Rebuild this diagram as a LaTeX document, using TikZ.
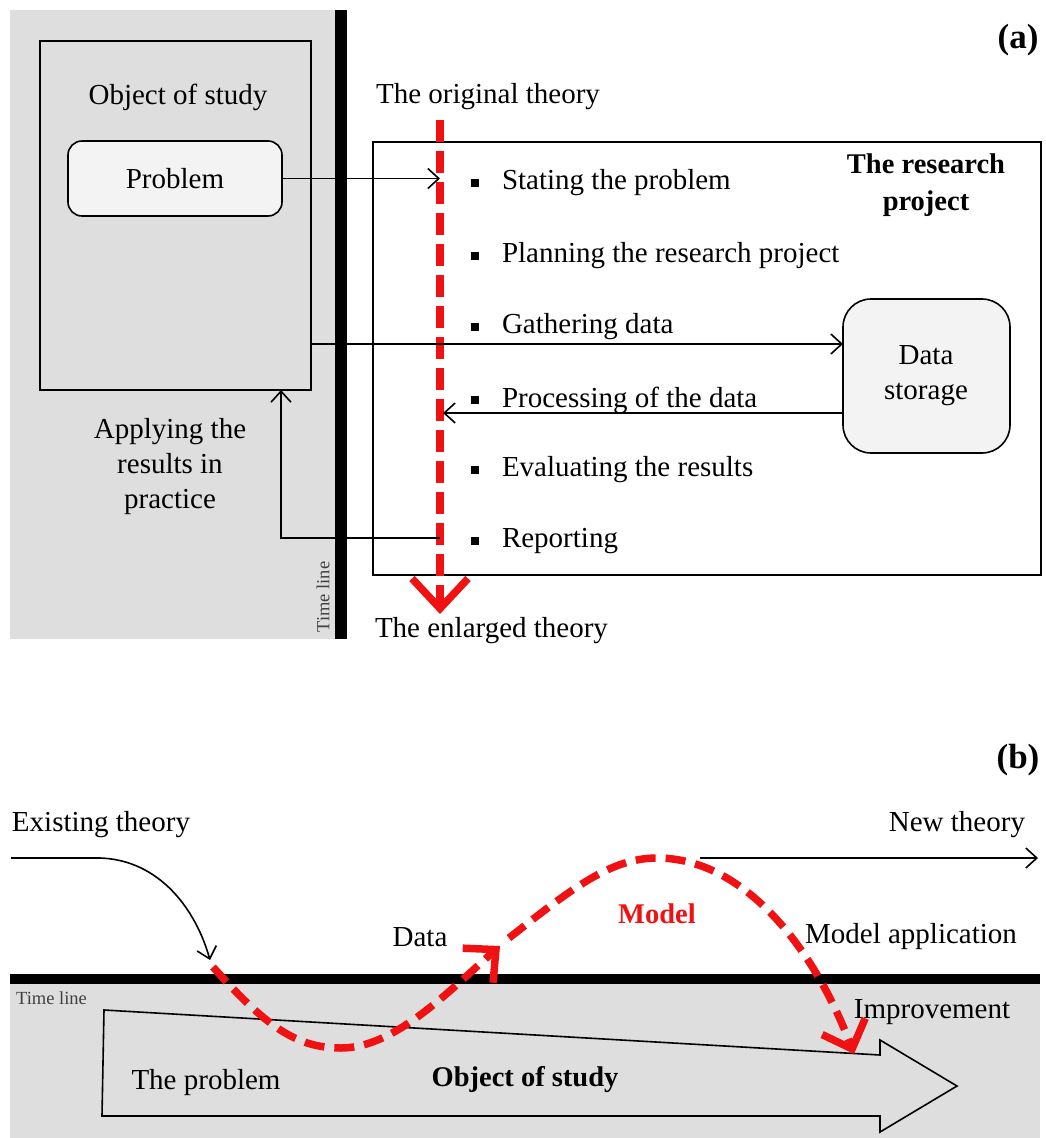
\documentclass[tikz,border=0pt]{standalone}
\usepackage{fontspec}
\setmainfont{Liberation Serif}
\usetikzlibrary{arrows.meta}
\definecolor{bg}{HTML}{DEDEDE}
\definecolor{boxfill}{HTML}{F3F3F3}
\definecolor{redd}{HTML}{F01212}
\begin{document}
\begin{tikzpicture}[x=1pt,y=-1pt,
  txt/.style={font=\fontsize{29}{35}\selectfont, inner sep=0pt, outer sep=0pt},
  bold/.style={font=\fontsize{28.5}{37}\selectfont\bfseries, inner sep=0pt, outer sep=0pt},
  small/.style={font=\fontsize{18.5}{20}\selectfont, inner sep=0pt, text=black!75},
  frame/.style={draw, line width=1.6pt, inner sep=0pt, outer sep=0pt, anchor=north west},
  conn/.style={line width=1.6pt, -{Straight Barb[length=11pt,width=20pt,line width=1.6pt]}},
  reddash/.style={draw=redd, line width=7.5pt, dash pattern=on 22pt off 9pt,
     -{Straight Barb[length=30pt,width=56pt,line width=7.5pt]}},
  bulletbox/.style={fill=black, minimum size=8pt, inner sep=0pt}
]
\useasboundingbox (0,0) rectangle (1046,1138);
% ---------- panel (a) ----------
\fill[bg] (10,10) rectangle (335,639);
\fill[black] (335,10) rectangle (347,639);
\node[frame, minimum width=271pt, minimum height=349pt] (obj) at (40,41) {};
\node[txt] (objt) at (178,97) {Object of study};
\node[frame, fill=boxfill, rounded corners=14pt, minimum width=214pt, minimum height=75pt] (prob) at (68,141) {};
\node[txt] (probt) at (175,179) {Problem};
\node[frame, minimum width=668pt, minimum height=433pt] (rp) at (373,142) {};
\node[bold, align=center] (rpt) at (926,185) {The research\\project};
\node[frame, fill=boxfill, rounded corners=28pt, minimum width=167pt, minimum height=154pt] (ds) at (843,299) {};
\node[txt, align=center] (dst) at (926,376) {Data\\storage};
\node[txt] (orig) at (488,97) {The original theory};
\node[txt, anchor=west] (enl) at (375,631) {The enlarged theory};
\node[bold, font=\fontsize{35}{40}\selectfont\bfseries] (la) at (1018,40) {(a)};
\node[small, rotate=90] (tla) at (323,597) {Time line};
\node[txt, align=center] (app) at (170,467) {Applying the\\results in\\practice};
% bullets
\foreach \yy/\nm/\tx in {183/s1/Stating the problem, 256/s2/Planning the research project,
  327/s3/Gathering data, 400/s4/Processing of the data, 470/s5/Evaluating the results, 541/s6/Reporting}{
  \node[bulletbox] (b\nm) at (475,\yy) {};
  \node[txt, anchor=west] (\nm) at (502,\yy) {\tx};
}
% red line
\coordinate (rtop) at (440,120);
\coordinate (rbot) at (440,614);
\draw[reddash] (rtop) -- (rbot);
% connectors
\coordinate (gy) at (0,344);
\coordinate (py) at (0,413);
\coordinate (rep) at (440,538);
\coordinate (apx) at (281,538);
\draw[conn] (prob.east) -- (rtop |- prob.east);
\draw[conn] (obj.east |- gy) -- (ds.west |- gy);
\draw[conn] (ds.west |- py) -- ([xshift=3pt]rtop |- py);
\draw[conn] (rep) -- (apx) -- (apx |- obj.south);
% ---------- panel (b) ----------
\node[bold, font=\fontsize{35}{40}\selectfont\bfseries] (lb) at (1018,760) {(b)};
\fill[bg] (10,984) rectangle (1040,1138);
\fill[black] (10,974) rectangle (1040,984);
\node[small, anchor=west] (tlb) at (16,998) {Time line};
\draw[line width=1.6pt] (104,1010) -- (880,1055) -- (880,1040) -- (957,1086) -- (880,1132) -- (880,1116) -- (102,1116) -- cycle;
\node[txt] (tpr) at (206,1083) {The problem};
\node[bold] (objb) at (525,1080) {Object of study};
\node[txt, anchor=west] (ext) at (12,825) {Existing theory};
\node[txt, anchor=east] (newt) at (1025,825) {New theory};
\node[txt] (data) at (420,937) {Data};
\node[bold, text=redd] (model) at (657,914) {Model};
\node[txt] (mapp) at (911,937) {Model application};
\node[txt] (impr) at (932,1012) {Improvement};
\coordinate (e0) at (11,858);
\coordinate (e1) at (100,858);
\coordinate (e2) at (210,960);
\draw[conn] (e0) -- (e1) .. controls (160,860) and (196,910) .. (e2);
\coordinate (n0) at (700,858);
\coordinate (n1) at (1038,858);
\draw[conn] (n0) -- (n1);
\coordinate (r0) at (213,967);
\coordinate (r1) at (341,1048);
\coordinate (r2) at (500,946);
\coordinate (r3) at (509,938);
\coordinate (r4) at (657,858);
\coordinate (r5) at (854,1054);
\draw[reddash, dash pattern=on 20pt off 10pt, -{Straight Barb[length=24pt,width=46pt,line width=7.5pt]}]
  (r0) .. controls (265,1025) and (295,1048) .. (r1) .. controls (395,1048) and (450,990) .. (r2);
\draw[reddash, dash pattern=on 20pt off 10pt, -{Straight Barb[length=24pt,width=46pt,line width=7.5pt]}]
  (r3) .. controls (570,890) and (610,858) .. (r4) .. controls (745,858) and (815,950) .. (r5);
\end{tikzpicture}
\end{document}
